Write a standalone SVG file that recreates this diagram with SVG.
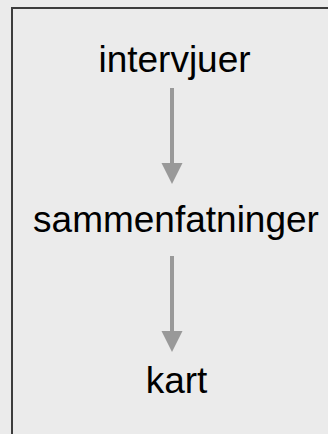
<svg xmlns="http://www.w3.org/2000/svg" width="328" height="434" viewBox="0 0 328 434">
<defs>
<style>
.lbl{font-family:"Liberation Sans",Arial,sans-serif;font-size:37px;fill:#000;text-anchor:middle}
.edge{stroke:#999;stroke-width:4;fill:none}
.head{fill:#999}
</style>
</defs>
<rect x="0" y="0" width="328" height="434" fill="#ebebeb"/>
<rect x="12" y="8" width="400" height="500" fill="#ebebeb" stroke="#3c3c3c" stroke-width="2"/>
<g id="node-intervjuer"><text class="lbl" x="174.5" y="72">intervjuer</text></g>
<g id="node-sammenfatninger"><text class="lbl" x="176" y="232">sammenfatninger</text></g>
<g id="node-kart"><text class="lbl" x="176.5" y="393">kart</text></g>
<g id="connectors">
<line class="edge" x1="172" y1="88" x2="172" y2="164"/>
<polygon class="head" points="161.5,163 182.5,163 172,184"/>
<line class="edge" x1="172" y1="256" x2="172" y2="332"/>
<polygon class="head" points="161.5,331 182.5,331 172,352"/>
</g>
</svg>
